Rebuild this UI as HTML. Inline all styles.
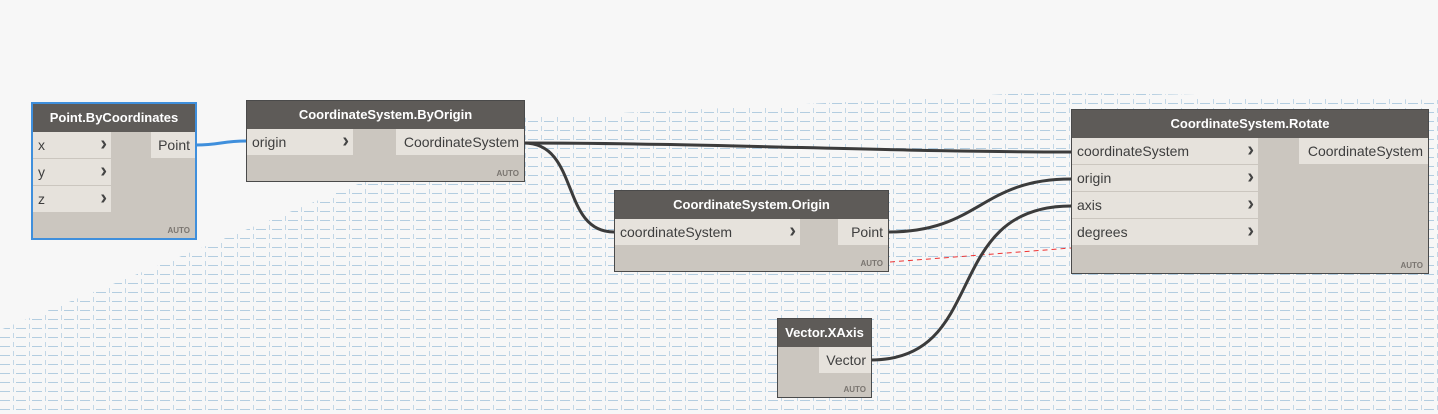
<!DOCTYPE html>
<html><head><meta charset="utf-8"><style>
body{margin:0;width:1438px;height:414px;overflow:hidden;background:#f7f7f7;font-family:"Liberation Sans",sans-serif;position:relative}
.n{position:absolute;background:#cbc6bf;border:1px solid #4a4a4a;box-sizing:border-box}
.h{position:absolute;left:0;right:0;top:0;height:28px;background:#5e5b58;color:#fff;font-weight:bold;font-size:13px;text-align:center;line-height:28px}
.r{position:absolute;background:#e6e2dc;color:#3e3e3e;font-size:14px;line-height:26px;padding-left:5px;box-sizing:border-box;border-bottom:1px solid #cbc6bf}
.r b{position:absolute;right:4px;top:-1px;font-size:20px;font-weight:bold;color:#444}
.o{position:absolute;background:#e6e2dc;color:#3e3e3e;font-size:14px;line-height:26px;text-align:right;padding-right:5px;box-sizing:border-box}
.a{position:absolute;right:5px;bottom:3px;font-size:8px;font-weight:bold;color:#7a7570}
svg{position:absolute;left:0;top:0}
</style></head><body>
<svg width="1438" height="414">
<defs><pattern id="g" width="16" height="9" patternUnits="userSpaceOnUse">
<line x1="0" y1="4.5" x2="10" y2="4.5" stroke="#b3cde0" stroke-width="1"/>
<line x1="13.5" y1="0" x2="13.5" y2="5" stroke="#c3d7e6" stroke-width="1"/>
</pattern></defs>
<polygon points="0,330 0,414 1438,414 1438,100 1050,92 520,118" fill="url(#g)"/>
<line x1="890" y1="262" x2="1071" y2="248" stroke="#e33" stroke-dasharray="5,4"/>
<path d="M196,145 C220,145 222,141 246,141" stroke="#3f8fdc" stroke-width="3" fill="none"/>
<path d="M524,143 C700,143 900,152 1071,152" stroke="#3b3b3b" stroke-width="3" fill="none"/>
<path d="M524,143 C580,143 560,232 614,232" stroke="#3b3b3b" stroke-width="3" fill="none"/>
<path d="M888,232 C980,232 980,179 1071,179" stroke="#3b3b3b" stroke-width="3" fill="none"/>
<path d="M871,360 C990,360 940,206 1071,206" stroke="#3b3b3b" stroke-width="3" fill="none"/>
</svg>

<div class="n" style="left:31px;top:102px;width:166px;height:138px;border:2px solid #3f8fdc">
<div class="h">Point.ByCoordinates</div>
<div class="r" style="left:0;top:28px;width:78px;height:27px">x<b>›</b></div>
<div class="r" style="left:0;top:55px;width:78px;height:27px">y<b>›</b></div>
<div class="r" style="left:0;top:82px;width:78px;height:27px">z<b>›</b></div>
<div class="o" style="right:0;top:28px;width:44px;height:26px">Point</div>
<div class="a">AUTO</div></div>

<div class="n" style="left:246px;top:100px;width:279px;height:82px">
<div class="h">CoordinateSystem.ByOrigin</div>
<div class="r" style="left:0;top:28px;width:106px;height:27px">origin<b>›</b></div>
<div class="o" style="right:0;top:28px;width:128px;height:26px">CoordinateSystem</div>
<div class="a">AUTO</div></div>

<div class="n" style="left:614px;top:190px;width:275px;height:82px">
<div class="h">CoordinateSystem.Origin</div>
<div class="r" style="left:0;top:28px;width:185px;height:27px">coordinateSystem<b>›</b></div>
<div class="o" style="right:0;top:28px;width:50px;height:26px">Point</div>
<div class="a">AUTO</div></div>

<div class="n" style="left:777px;top:318px;width:95px;height:80px">
<div class="h">Vector.XAxis</div>
<div class="o" style="right:0;top:28px;width:52px;height:26px">Vector</div>
<div class="a">AUTO</div></div>

<div class="n" style="left:1071px;top:109px;width:358px;height:165px">
<div class="h">CoordinateSystem.Rotate</div>
<div class="r" style="left:0;top:28px;width:186px;height:27px">coordinateSystem<b>›</b></div>
<div class="r" style="left:0;top:55px;width:186px;height:27px">origin<b>›</b></div>
<div class="r" style="left:0;top:82px;width:186px;height:27px">axis<b>›</b></div>
<div class="r" style="left:0;top:109px;width:186px;height:27px">degrees<b>›</b></div>
<div class="o" style="right:0;top:28px;width:129px;height:26px">CoordinateSystem</div>
<div class="a">AUTO</div></div>
</body></html>
